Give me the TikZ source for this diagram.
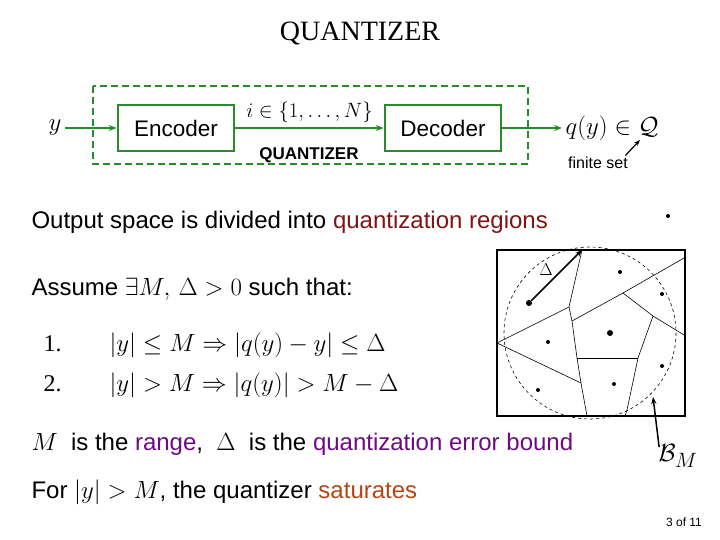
\documentclass[tikz,border=0pt]{standalone}
\usepackage{fontspec}
\setmainfont{Liberation Sans}
\newfontfamily\serifont{Liberation Serif}
\usetikzlibrary{arrows.meta}
\definecolor{qgreen}{RGB}{40,140,40}
\definecolor{regred}{RGB}{128,20,20}
\definecolor{rangepurple}{RGB}{110,10,130}
\definecolor{satorange}{RGB}{180,70,20}
\newcommand{\qmath}[1]{{\fontsize{28}{32}\selectfont$#1$}}
\begin{document}
\begin{tikzpicture}[x=1pt,y=-1pt,
  every node/.style={font=\fontsize{24}{28}\selectfont},
  block/.style={draw=qgreen,line width=2.5pt,minimum width=116pt,minimum height=46pt},
  flow/.style={->,>={Stealth[length=8pt]},draw=qgreen,line width=2pt},
  region/.style={line width=0.6pt},
  centre/.style={circle,fill=black,inner sep=0pt,minimum size=4pt}]
\useasboundingbox (0,0) rectangle (720,540);
\node[font=\serifont\fontsize{28}{32}\selectfont] (title) at (360,34) {QUANTIZER};
% block diagram
\draw[qgreen,line width=2.5pt,dash pattern=on 7pt off 4pt] (93,86) rectangle (528,164);
\node[block,font=\fontsize{22.5}{26}\selectfont] (enc) at (176,128) {Encoder};
\node[block,font=\fontsize{22.5}{26}\selectfont] (dec) at (443,128) {Decoder};
\node (y) at (55,128) {\qmath{y}};
\node (qy) at (612,128) {\qmath{q(y)\in\mathcal{Q}}};
\draw[flow] (y) -- (enc);
\draw[flow] (enc) -- node[above=1pt,black] {\fontsize{20}{24}\selectfont$i\in\{1,\ldots,N\}$} (dec);
\draw[flow] (dec) -- (qy);
\node[font=\bfseries\fontsize{17}{20}\selectfont] (qlab) at (309,155) {QUANTIZER};
\node[font=\fontsize{16}{20}\selectfont] (fin) at (598,163) {finite set};
\draw[->,>={Stealth[length=6pt]},line width=1.2pt] (fin.north east) ++(-6,2) -- (640,140);
% text
\node[anchor=west] (l1) at (28,222) {Output space is divided into \textcolor{regred}{quantization regions}};
\node[anchor=west] (l2) at (28,289) {Assume \qmath{\exists M,\,\Delta>0} such that:};
\node[anchor=west] (l3) at (40,345) {{\serifont 1.}\qquad \qmath{|y|\le M\Rightarrow|q(y)-y|\le\Delta}};
\node[anchor=west] (l4) at (40,385) {{\serifont 2.}\qquad \qmath{|y|>M\Rightarrow|q(y)|>M-\Delta}};
\node[anchor=west] (l5) at (28,444) {\qmath{M}\; is the \textcolor{rangepurple}{range},\; \qmath{\Delta}\; is the \textcolor{rangepurple}{quantization error bound}};
\node[anchor=west] (l6) at (28,492) {For \qmath{|y|>M}, the quantizer \textcolor{satorange}{saturates}};
\node[font=\fontsize{12}{14}\selectfont] (page) at (684,522) {3 of 11};
% regions
\draw[dashed,line width=0.6pt] (590,333) circle (86);
\draw[line width=2.5pt] (497,250) rectangle (685,416);
\draw[region] (582,250) -- (569,307) -- (572,321) -- (577,358) -- (581,383) -- (587,416);
\draw[region] (497,343) -- (569,307);
\draw[region] (497,343) -- (581,383);
\draw[region] (572,321) -- (623,293) -- (684,258);
\draw[region] (623,293) -- (653,316) -- (684,335);
\draw[region] (653,316) -- (638,358) -- (627,410) -- (625,416);
\draw[region] (577,358) -- (638,358);
\foreach \px/\py in {620/272,662/294,548/342,662/366,538/390,614/384,668/216}
  \node[centre] at (\px,\py) {};
\node[centre,minimum size=6pt] (c0) at (529,303) {};
\node[centre,minimum size=6pt] (c1) at (610,333) {};
\coordinate (top) at (582,250);
\draw[->,>={Stealth[length=7pt]},line width=1.5pt] (c0) -- (top);
\node[font=\fontsize{18}{20}\selectfont] (dl) at (546,270) {$\Delta$};
\node (bm) at (678,456) {\qmath{\mathcal{B}_M}};
\coordinate (bmtip) at (653,397);
\draw[->,>={Stealth[length=7pt]},line width=1.5pt] (bm.north west) ++(4,6) -- (bmtip);
\end{tikzpicture}
\end{document}
